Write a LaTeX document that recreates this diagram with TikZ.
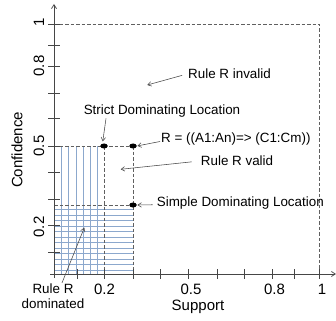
\documentclass[tikz,border=0pt]{standalone}
\usepackage{fontspec}
\setmainfont{Liberation Sans}
\usetikzlibrary{
    arrows.meta,
    shapes.geometric
}
\definecolor{gridblue}{RGB}{140,168,205}
\definecolor{axisgray}{RGB}{70,70,70}
\tikzset{
    axisline/.style={axisgray, line width=0.7pt},
    tickline/.style={axisgray, line width=0.6pt},
    guide/.style={gray!75!black, line width=0.55pt, dash pattern=on 3.5pt off 2pt},
    gridline/.style={gridblue, line width=0.5pt},
    dot/.style={ellipse, fill=black, inner sep=0pt, minimum width=7.5pt, minimum height=5pt},
    note/.style={font=\fontsize{13.4pt}{15pt}\selectfont, inner sep=1pt},
    lab/.style={font=\fontsize{15pt}{17pt}\selectfont, inner sep=0pt},
    pointer/.style={-{Straight Barb[length=3.5pt,width=4.5pt]}, axisgray, line width=0.55pt}
}

\begin{document}
\begin{tikzpicture}[x=1pt,y=-1pt]
\useasboundingbox (0,0) rectangle (336,320);
% dominated area
\foreach \gx in {61,68.3,76,83.3,90.7,97.5}
  \draw[gridline] (\gx,146) -- (\gx,274);
\foreach \gy in {209.5,215,...,270}
  \draw[gridline] (54,\gy) -- (133,\gy);
% dashed guides
\draw[guide] (54,24) -- (319,24) -- (319,274);
\draw[guide] (54,146) -- (133,146);
\draw[guide] (54,205) -- (133,205);
\draw[guide] (104,146) -- (104,274);
\draw[guide] (133,146) -- (133,274);
% axes
\draw[axisline, -{Straight Barb[length=4pt,width=5pt]}] (54,278) -- (54,4);
\draw[axisline, -{Straight Barb[length=4pt,width=5pt]}] (50,274) -- (336,274);
\foreach \ty in {24,45,66,93,118,146,172.5,199.5,225,252}
  \draw[tickline] (48,\ty) -- (60,\ty);
\foreach \tx in {77,104,133,160.5,188,217,244,272,294,319}
  \draw[tickline] (\tx,269) -- (\tx,279);
\node[lab, rotate=90] (yone) at (39,22) {1};
\node[lab, rotate=90] (yeight) at (39,66) {0.8};
\node[lab, rotate=90] (yfive) at (39,146) {0.5};
\node[lab, rotate=90] (ytwo) at (39,227) {0.2};
\node[lab, rotate=90] (ytitle) at (17,150) {Confidence};
\node[lab] (xtwo) at (104.5,289) {0.2};
\node[lab] (xfive) at (191,289) {0.5};
\node[lab] (xeight) at (274.5,289) {0.8};
\node[lab] (xone) at (322,289) {1};
\node[lab] (xtitle) at (198,306.5) {Support};
% locations
\node[dot] (strictloc) at (104,146) {};
\node[dot] (ruleloc) at (133,146) {};
\node[dot] (simpleloc) at (133,205) {};
% annotations
\node[note, anchor=west] (invalid) at (187,74) {Rule R invalid};
\node[note] (strict) at (162,111) {Strict Dominating Location};
\node[note, anchor=west] (rule) at (160,139) {R = ((A1:An)=> (C1:Cm))};
\node[note, anchor=west] (valid) at (199.7,161) {Rule R valid};
\node[note, anchor=west] (simple) at (155.7,202.7) {Simple Dominating Location};
\node[note, align=center] (dominated) at (53,296.5) {Rule R\\dominated};
\coordinate (pinvalid) at (147.3,85);
\coordinate (pvalid) at (120.7,169.3);
\coordinate (pdominated) at (84.3,227.7);
\draw[pointer, shorten <=5pt] (invalid.west) -- (pinvalid);
\draw[pointer, shorten >=2pt] ([xshift=2pt]strict.south -| strictloc) -- ([xshift=-1.5pt]strictloc.north);
\draw[pointer, shorten >=0.5pt] ([yshift=-2.5pt]rule.west) -- (ruleloc.east);
\draw[pointer, shorten <=8pt] (valid.west) -- (pvalid);
\draw[pointer, shorten <=3pt, shorten >=0.5pt] ([yshift=-2pt]simple.west) -- (simpleloc.east);
\draw[pointer] ([xshift=9pt]dominated.north) -- (pdominated);
\end{tikzpicture}
\end{document}
